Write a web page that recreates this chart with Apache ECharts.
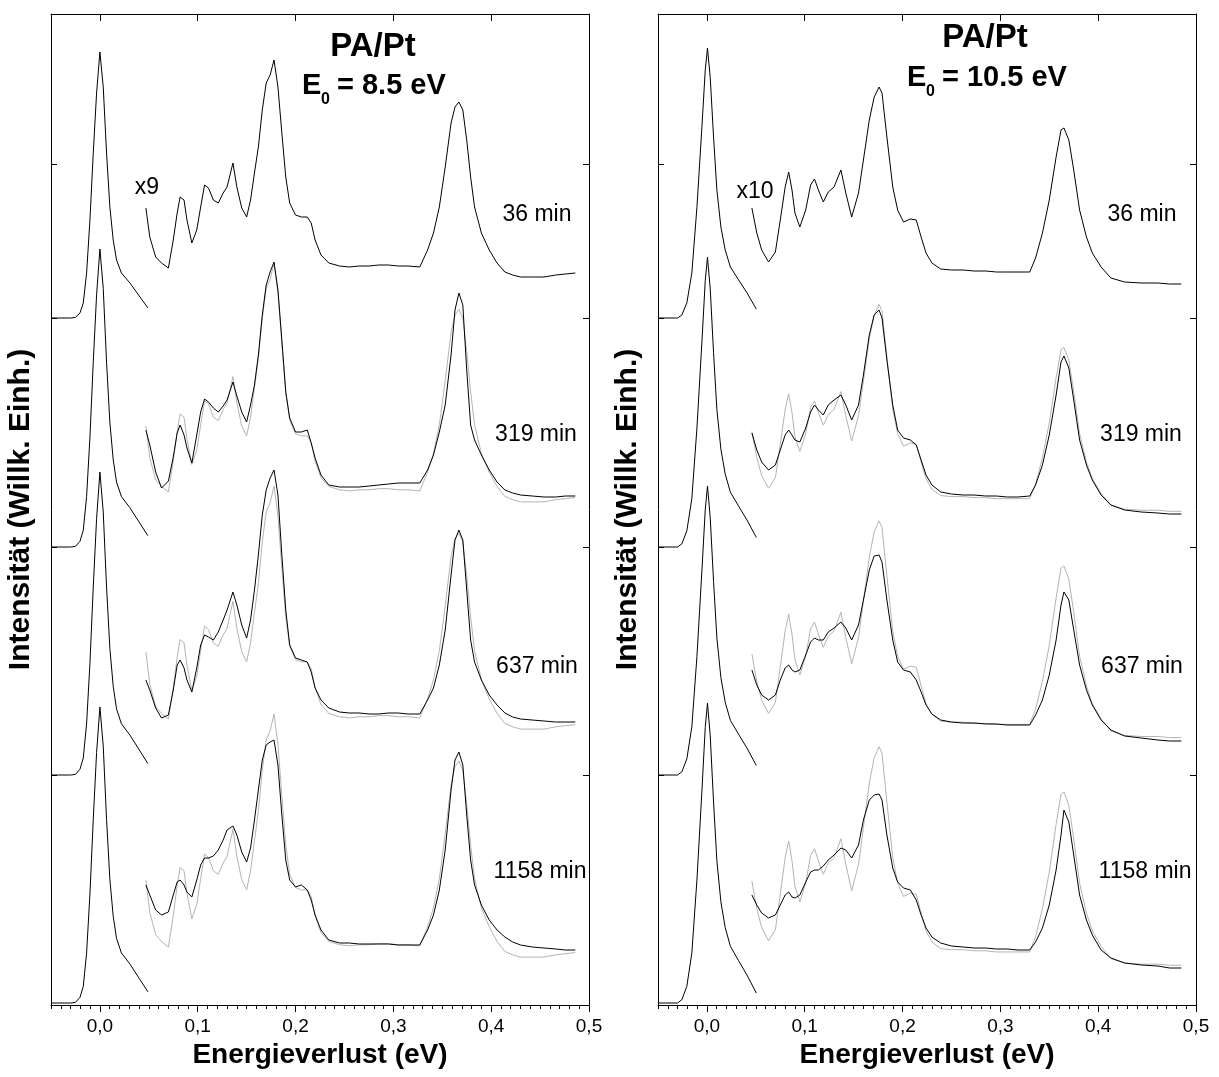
<!DOCTYPE html>
<html><head><meta charset="utf-8">
<script src="https://cdn.jsdelivr.net/npm/echarts@6/dist/echarts.min.js"></script>
<style>html,body{margin:0;padding:0;background:#fff}#c{width:1219px;height:1077px}</style>
</head><body><div id="c"></div><script>
// ---------------- DATA (arbitrary intensity units) ----------------
const timeLabels = ['36 min', '319 min', '637 min', '1158 min'];
const panelTitles = ['PA/Pt', 'PA/Pt'];
const beamEnergies = ['8.5 eV', '10.5 eV'];
const magnifications = ['x9', 'x10'];
const xTickValues = [0, 0.1, 0.2, 0.3, 0.4, 0.5];
const yTickValues = [230, 458, 687, 841];
const baselines = [687, 458, 230, 2];

// elastic peak, left panel (normalised profile) and peak heights
const elasticE_L = [-0.05, -0.03, -0.025, -0.0204, -0.017, -0.0136, -0.0102, -0.0068, -0.0034, 0, 0.0034, 0.0068, 0.0102, 0.0136, 0.017, 0.022, 0.0306, 0.041, 0.049];
const elasticProfile_L = [0, 0, 0.002, 0.019, 0.056, 0.169, 0.368, 0.62, 0.846, 1, 0.868, 0.62, 0.417, 0.293, 0.218, 0.169, 0.132, 0.079, 0.038];
const elasticHeight_L = [266, 298, 303, 296];
// elastic peak, right panel
const elasticE_R = [-0.05, -0.03, -0.0256, -0.0205, -0.0154, -0.0102, -0.0051, -0.0017, 0.0006, 0.0034, 0.0068, 0.0102, 0.0143, 0.0187, 0.024, 0.0324, 0.041, 0.0505];
const elasticProfile_R = [0, 0, 0.011, 0.056, 0.167, 0.41, 0.707, 0.918, 1, 0.89, 0.67, 0.474, 0.337, 0.252, 0.189, 0.141, 0.093, 0.033];
const elasticHeight_R = [270, 290, 289, 300];

// loss region (magnified), left panel
const lossE_L = [0.047,0.051,0.057,0.063,0.070,0.075,0.079,0.082,0.086,0.089,0.094,0.099,0.103,0.107,0.111,0.116,0.121,0.126,0.130,0.136,0.140,0.145,0.150,0.154,0.158,0.162,0.166,0.170,0.174,0.178,0.182,0.186,0.190,0.194,0.200,0.206,0.212,0.216,0.220,0.226,0.234,0.245,0.255,0.265,0.275,0.285,0.295,0.305,0.315,0.327,0.335,0.341,0.347,0.353,0.359,0.363,0.367,0.371,0.375,0.379,0.383,0.390,0.398,0.406,0.414,0.422,0.430,0.442,0.454,0.466,0.476,0.486];
const loss_L_36 = [110,81,61,55,50,78,105,121,118,98,75,88,111,133,130,118,115,125,131,155,131,110,101,118,145,171,208,235,243,258,231,185,141,115,103,101,101,95,78,63,55,52,51,52,52,53,53,52,52,51,68,85,111,151,195,211,216,208,178,141,111,85,68,55,46,43,41,41,41,43,44,45];
const loss_L_319 = [117,102,75,59,66,90,114,122,112,99,84,112,135,148,145,139,135,141,147,165,151,135,125,142,162,192,232,262,275,285,257,207,155,129,115,115,117,104,89,72,62,60,60,60,61,62,63,64,64,64,77,92,115,142,192,237,254,242,177,122,107,92,77,65,57,54,52,51,50,50,51,51];
const loss_L_637 = [95,85,67,57,60,85,110,115,107,95,83,107,130,140,138,135,143,155,165,183,170,150,137,155,185,220,260,285,297,305,280,220,165,130,117,115,113,103,87,75,67,63,62,62,61,61,62,62,61,61,75,87,110,145,200,235,245,235,185,135,113,95,80,70,62,58,56,55,54,53,53,53];
const loss_L_1158 = [118,108,93,88,91,108,121,123,118,111,106,123,138,145,145,147,153,163,173,177,168,151,141,155,183,213,243,258,261,263,238,188,143,123,116,118,113,103,88,73,63,60,60,59,59,59,59,58,58,58,73,88,113,153,213,243,251,238,188,143,118,98,83,73,66,61,58,56,55,54,53,53];
const grayScale_L = [1.10, 1.12, 1.12];

// loss region (magnified), right panel
const lossE_R = [0.046,0.051,0.056,0.063,0.070,0.075,0.080,0.0836,0.087,0.090,0.095,0.101,0.106,0.110,0.114,0.119,0.124,0.130,0.137,0.142,0.148,0.155,0.160,0.166,0.171,0.176,0.179,0.184,0.190,0.195,0.201,0.208,0.214,0.219,0.224,0.230,0.239,0.250,0.262,0.273,0.285,0.296,0.307,0.318,0.330,0.336,0.343,0.350,0.357,0.362,0.365,0.370,0.375,0.381,0.388,0.394,0.403,0.413,0.427,0.444,0.461,0.473,0.485];
const loss_R_36 = [110,85,68,56,66,98,131,146,128,105,91,108,133,139,128,116,126,131,148,125,101,125,158,198,221,231,225,181,131,108,96,99,98,81,65,55,49,48,48,47,47,46,46,46,46,60,85,118,161,188,190,178,148,108,81,65,51,40,36,35,35,34,34];
const loss_R_319 = [114,97,85,77,82,97,112,117,112,107,105,119,135,142,137,132,142,147,152,142,127,142,172,212,232,237,229,187,142,117,109,107,102,87,72,62,55,53,52,52,51,51,50,50,51,62,82,112,152,185,191,179,147,107,82,67,52,42,37,35,34,33,33];
const loss_R_637 = [105,90,80,75,80,95,107,110,105,103,105,120,133,137,135,135,143,147,153,147,135,150,175,205,219,220,213,175,135,113,105,103,95,83,70,61,55,53,52,52,51,51,50,50,50,60,75,100,135,170,183,175,145,110,85,70,55,45,39,37,35,34,34];
const loss_R_1158 = [108,98,90,85,88,98,108,111,106,105,108,121,131,133,133,137,143,148,155,153,145,158,183,203,208,209,203,168,135,121,115,113,103,88,75,66,60,57,56,55,55,54,54,53,53,61,75,98,133,168,193,181,148,108,83,68,53,45,40,38,37,35,35];
const grayScale_R = [1.05, 1.10, 1.11];

// ---------------- CHART ----------------
const FONT = '"Liberation Sans", Arial, Helvetica, sans-serif';
const grids = [
  {left: 51, top: 14, width: 538, height: 991},
  {left: 658, top: 14, width: 538, height: 991}
];
const xAxes = [], yAxes = [], series = [];
const fmt = v => v.toFixed(1).replace('.', ',');
grids.forEach((g, gi) => {
  const base = {gridIndex: gi, type: 'value', min: -0.05, max: 0.5, splitLine: {show: false}};
  xAxes.push(Object.assign({}, base, {
    position: 'bottom',
    axisLine: {show: true, onZero: false, lineStyle: {color: '#000', width: 1}},
    axisTick: {show: true, inside: false, length: 7, customValues: xTickValues, lineStyle: {color: '#000'}},
    axisLabel: {show: true, customValues: xTickValues, formatter: fmt, color: '#000', fontSize: 19, fontFamily: FONT, margin: 12},
    name: 'Energieverlust (eV)', nameLocation: 'middle', nameGap: 36,
    nameTextStyle: {color: '#000', fontSize: 28, fontWeight: 'bold', fontFamily: FONT}
  }));
  xAxes.push(Object.assign({}, base, {
    position: 'bottom', interval: 0.01,
    axisLine: {show: false}, axisLabel: {show: false},
    axisTick: {show: true, inside: false, length: 4, lineStyle: {color: '#000'}}
  }));
  xAxes.push(Object.assign({}, base, {
    position: 'top',
    axisLine: {show: true, onZero: false, lineStyle: {color: '#000', width: 1}},
    axisTick: {show: true, inside: true, length: 7, customValues: xTickValues, lineStyle: {color: '#000'}},
    axisLabel: {show: false}
  }));
  xAxes.push(Object.assign({}, base, {
    position: 'top', interval: 0.01,
    axisLine: {show: false}, axisLabel: {show: false},
    axisTick: {show: true, inside: true, length: 4, lineStyle: {color: '#000'}}
  }));
  const ybase = {gridIndex: gi, type: 'value', min: 0, max: 991, splitLine: {show: false}, axisLabel: {show: false}};
  yAxes.push(Object.assign({}, ybase, {
    position: 'left',
    axisLine: {show: true, onZero: false, lineStyle: {color: '#000', width: 1}},
    axisTick: {show: true, inside: true, length: 6, customValues: yTickValues, lineStyle: {color: '#000'}},
    name: 'Intensität (Willk. Einh.)', nameLocation: 'middle', nameGap: 15, nameRotate: 90,
    nameTextStyle: {color: '#000', fontSize: 30, fontWeight: 'bold', fontFamily: FONT}
  }));
  yAxes.push(Object.assign({}, ybase, {
    position: 'right',
    axisLine: {show: true, onZero: false, lineStyle: {color: '#000', width: 1}},
    axisTick: {show: true, inside: true, length: 6, customValues: yTickValues, lineStyle: {color: '#000'}}
  }));
});

function line(gi, pts, color, z) {
  series.push({
    type: 'line', xAxisIndex: gi * 4, yAxisIndex: gi * 2, data: pts,
    showSymbol: false, symbol: 'none', silent: true, animation: false, z: z,
    lineStyle: {color: color, width: 1}
  });
}
const panels = [
  {eE: elasticE_L, eP: elasticProfile_L, eH: elasticHeight_L, lE: lossE_L, loss: [loss_L_36, loss_L_319, loss_L_637, loss_L_1158], gs: grayScale_L},
  {eE: elasticE_R, eP: elasticProfile_R, eH: elasticHeight_R, lE: lossE_R, loss: [loss_R_36, loss_R_319, loss_R_637, loss_R_1158], gs: grayScale_R}
];
panels.forEach((p, gi) => {
  baselines.forEach((b, k) => {
    line(gi, p.eE.map((e, i) => [e, b + p.eP[i] * p.eH[k]]), '#000', 3);
    if (k > 0) line(gi, p.lE.map((e, i) => [e, b + p.loss[0][i] * p.gs[k - 1]]), '#b4b4b4', 2);
    line(gi, p.lE.map((e, i) => [e, b + p.loss[k][i]]), '#000', 3);
  });
});

const labelPos = [[537, 215], [536, 435], [537, 667], [540, 872]];
const graphics = [];
[0, 1].forEach(gi => {
  const dx = gi === 0 ? 0 : 605;
  labelPos.forEach((lp, k) => graphics.push({type: 'text', x: lp[0] + dx, y: lp[1],
    style: {text: timeLabels[k], fill: '#000', font: '23px ' + FONT, textAlign: 'center', textVerticalAlign: 'middle'}}));
});
graphics.push({type: 'text', x: 147, y: 188, style: {text: magnifications[0], fill: '#000', font: '23px ' + FONT, textAlign: 'center', textVerticalAlign: 'middle'}});
graphics.push({type: 'text', x: 755, y: 192, style: {text: magnifications[1], fill: '#000', font: '23px ' + FONT, textAlign: 'center', textVerticalAlign: 'middle'}});
const titlePos = [{t: [373, 47], e: 302, ey: 86}, {t: [985, 38], e: 907, ey: 78}];
titlePos.forEach((tp, gi) => {
  graphics.push({type: 'text', x: tp.t[0], y: tp.t[1], style: {text: panelTitles[gi], fill: '#000', font: 'bold 33px ' + FONT, textAlign: 'center', textVerticalAlign: 'middle'}});
  graphics.push({type: 'text', x: tp.e, y: tp.ey, style: {text: 'E', fill: '#000', font: 'bold 29px ' + FONT, textAlign: 'left', textVerticalAlign: 'middle'}});
  graphics.push({type: 'text', x: tp.e + 19, y: tp.ey + 14, style: {text: '0', fill: '#000', font: 'bold 16px ' + FONT, textAlign: 'left', textVerticalAlign: 'middle'}});
  graphics.push({type: 'text', x: tp.e + 35, y: tp.ey, style: {text: '= ' + beamEnergies[gi], fill: '#000', font: 'bold 29px ' + FONT, textAlign: 'left', textVerticalAlign: 'middle'}});
});

const chart = echarts.init(document.getElementById('c'), null, {renderer: 'canvas'});
chart.setOption({
  backgroundColor: '#fff', animation: false,
  grid: grids, xAxis: xAxes, yAxis: yAxes, series: series, graphic: graphics
});
</script></body></html>
